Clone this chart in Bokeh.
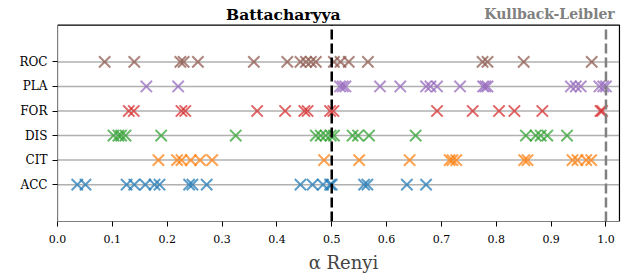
from bokeh.plotting import figure
from bokeh.models import FixedTicker, PrintfTickFormatter, Range1d
from bokeh.core.properties import value
from bokeh.embed import file_html
from bokeh.resources import INLINE

categories = ["ACC", "CIT", "DIS", "FOR", "PLA", "ROC"]
colors = ["#1f77b4", "#ff7f0e", "#2ca02c", "#d62728", "#9467bd", "#8c564b"]

acc = [0.036, 0.051, 0.126, 0.140, 0.160, 0.177, 0.186, 0.240, 0.246, 0.272,
       0.443, 0.465, 0.484, 0.497, 0.500, 0.559, 0.565, 0.637, 0.672]
cit = [0.184, 0.218, 0.226, 0.243, 0.260, 0.282, 0.486, 0.550, 0.642, 0.715,
       0.720, 0.727, 0.851, 0.857, 0.939, 0.948, 0.964, 0.973]
dis = [0.102, 0.111, 0.116, 0.124, 0.189, 0.325, 0.471, 0.480, 0.489, 0.498,
       0.504, 0.538, 0.548, 0.568, 0.653, 0.854, 0.872, 0.881, 0.893, 0.929]
for_ = [0.130, 0.139, 0.226, 0.233, 0.364, 0.415, 0.450, 0.456, 0.497, 0.503,
        0.692, 0.757, 0.805, 0.833, 0.884, 0.990, 0.993]
pla = [0.162, 0.220, 0.515, 0.520, 0.525, 0.588, 0.625, 0.672, 0.680, 0.692,
       0.734, 0.776, 0.780, 0.784, 0.936, 0.945, 0.954, 0.988, 0.995, 1.000]
roc = [0.086, 0.140, 0.224, 0.230, 0.256, 0.358, 0.419, 0.443, 0.453, 0.462,
       0.471, 0.504, 0.516, 0.531, 0.566, 0.775, 0.784, 0.850, 0.974]
series = [acc, cit, dis, for_, pla, roc]

x_ticks = [0.0, 0.1, 0.2, 0.3, 0.4, 0.5, 0.6, 0.7, 0.8, 0.9, 1.0]
battacharyya_alpha = 0.5
kl_alpha = 1.0

# axes box limits (data units)
X_MIN, X_MAX = 0.0, 1.0246
Y_MIN, Y_MAX = -1.5, 6.5

SERIF = "DejaVu Serif"

p = figure(width=629, height=276, output_backend="svg", toolbar_location=None,
           x_range=Range1d(0.0, 1.0429), y_range=Range1d(Y_MIN, 7.5),
           min_border_left=57, min_border_right=0, min_border_top=0,
           min_border_bottom=55)
p.outline_line_color = None
p.xgrid.visible = False
p.ygrid.visible = False

ys = list(range(len(categories)))
# horizontal grid lines
p.segment(x0=[X_MIN] * len(ys), x1=[X_MAX] * len(ys), y0=ys, y1=ys,
          line_color="#b0b0b0", line_width=1.5)

for i, (vals, c) in enumerate(zip(series, colors)):
    p.scatter(x=vals, y=[i] * len(vals), marker="x", size=16, line_width=2,
              line_color=c, line_alpha=0.72)

# reference lines
p.segment(x0=[battacharyya_alpha], x1=[battacharyya_alpha], y0=[Y_MIN], y1=[Y_MAX],
          line_color="black", line_width=2.5, line_dash="10 4")
p.segment(x0=[kl_alpha], x1=[kl_alpha], y0=[Y_MIN], y1=[Y_MAX],
          line_color="#808080", line_width=2.5, line_dash="10 4")

# axes box
p.quad(left=[X_MIN], right=[X_MAX], bottom=[Y_MIN], top=[Y_MAX],
       fill_alpha=0, line_color="black", line_width=1.2)

p.text(x=[battacharyya_alpha + 0.016], y=[6.93], text=["Battacharyya"],
       text_align="right", text_baseline="middle", text_font=value(SERIF),
       text_font_style="bold", text_font_size="15.5px", text_color="black")
p.text(x=[kl_alpha + 0.016], y=[6.93], text=["Kullback-Leibler"],
       text_align="right", text_baseline="middle", text_font=value(SERIF),
       text_font_style="bold", text_font_size="14px", text_color="#808080")

p.yaxis.ticker = FixedTicker(ticks=ys)
p.yaxis.major_label_overrides = {i: c for i, c in enumerate(categories)}
p.xaxis.ticker = FixedTicker(ticks=x_ticks)
p.xaxis.formatter = PrintfTickFormatter(format="%.1f")
for ax in (p.xaxis, p.yaxis):
    ax.minor_tick_line_color = None
    ax.major_tick_in = 0
    ax.major_tick_out = 5
    ax.major_tick_line_color = "black"
    ax.axis_line_color = None
    ax.major_label_text_font = SERIF
    ax.major_label_text_color = "black"
p.xaxis.major_label_standoff = 8
p.xaxis.major_label_text_font_size = "11px"
p.yaxis.major_label_text_font_size = "12px"
p.xaxis.axis_label = "α Renyi"
p.xaxis.axis_label_text_font = SERIF
p.xaxis.axis_label_text_font_style = "normal"
p.xaxis.axis_label_text_font_size = "18px"
p.xaxis.axis_label_standoff = 6

open("out.html", "w").write(file_html(p, INLINE))
